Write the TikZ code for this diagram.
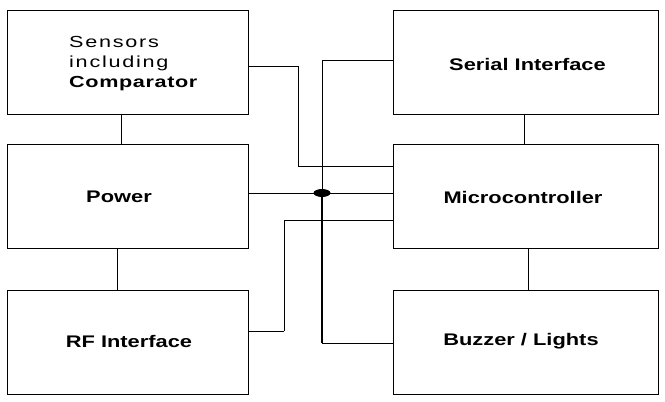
\documentclass[tikz,border=0pt]{standalone}
\usepackage{fontspec}
\setmainfont{Liberation Sans}
\newfontfamily\lblfont[FakeStretch=1.3]{Liberation Sans}
\newfontfamily\sensfont[FakeStretch=1.35,LetterSpace=11]{Liberation Sans}
\newfontfamily\compfont[FakeStretch=1.35,LetterSpace=4]{Liberation Sans}
\begin{document}
\begin{tikzpicture}[x=1pt,y=-1pt,
  blk/.style={draw=black,line width=0.9pt,rectangle,inner sep=0pt,minimum height=104pt},
  lblk/.style={blk,minimum width=241pt},
  rblk/.style={blk,minimum width=265pt},
  lbl/.style={anchor=base,inner sep=0pt,font=\lblfont\bfseries\fontsize{16.8}{20}\selectfont},
  sl/.style={anchor=base west,inner sep=0pt,font=\sensfont\fontsize{16}{20}\selectfont},
  wire/.style={draw=black,line width=0.9pt},
  thick wire/.style={draw=black,line width=1.4pt}]
\useasboundingbox (0,0) rectangle (665,402);
% boxes
\node[lblk] (sens) at (127.5,62) {};
\node[lblk] (pow)  at (127.5,196) {};
\node[lblk] (rf)   at (127.5,342) {};
\node[rblk] (ser)  at (525.5,62) {};
\node[rblk] (mcu)  at (525.5,196) {};
\node[rblk] (buz)  at (525.5,342) {};
% labels
\node[sl] (t1) at (69,47) {Sensors};
\node[sl] (t2) at (69,67) {including};
\node[sl,font=\compfont\bfseries\fontsize{16}{20}\selectfont] (t3) at (69,87) {Comparator};
\node[lbl] (tp) at (119,202) {Power};
\node[lbl] (tr) at (129,347) {RF Interface};
\node[lbl] (ts) at (527.5,70) {Serial Interface};
\node[lbl] (tm) at (523,203) {Microcontroller};
\node[lbl] (tb) at (521,345) {Buzzer / Lights};
% vertical links
\draw[wire] ([xshift=115pt]sens.south west) -- ([xshift=115pt]pow.north west);
\draw[thick wire] ([xshift=111pt]pow.south west) -- ([xshift=111pt]rf.north west);
\draw[thick wire] ([xshift=132pt]ser.south west) -- ([xshift=132pt]mcu.north west);
\draw[wire] ([xshift=136pt]mcu.south west) -- ([xshift=136pt]buz.north west);
% sensors to mcu
\draw[wire] ([yshift=-4pt]sens.east) -- ++(50,0) |- ([yshift=30pt]mcu.west);
% power to mcu
\draw[wire] ([yshift=3pt]pow.east) -- ([yshift=3pt]mcu.west);
% bus from serial to buzzer
\coordinate (dot) at (322,193);
\coordinate (bw) at ([yshift=-1pt]buz.west);
\coordinate (mw) at ([yshift=-24pt]mcu.west);
\draw[wire] ([yshift=2pt]ser.west) -| (dot);
\coordinate (busb) at (dot |- bw);
\draw[thick wire] (dot) -- (busb);
\draw[wire] (busb) -- (bw);
% rf to mcu
\draw[wire] ([yshift=11pt]rf.east) -- ++(36,0) coordinate (rfc);
\coordinate (rft) at (rfc |- mw);
\draw[thick wire] (rfc) -- (rft);
\draw[wire] (rft) -- (mw);
% junction
\fill[black] (dot) ellipse [x radius=8.5pt, y radius=4pt];
\end{tikzpicture}
\end{document}
